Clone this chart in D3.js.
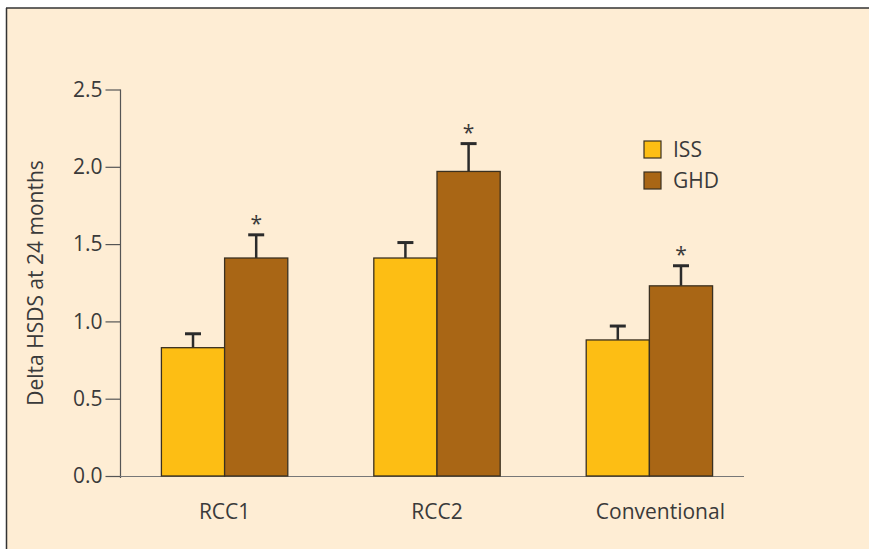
<!DOCTYPE html>
<html>
<head>
<meta charset="utf-8">
<script src="https://cdn.jsdelivr.net/npm/d3@7/dist/d3.min.js"></script>
<style>
  html, body { margin: 0; padding: 0; background: #ffffff; }
  svg { display: block; }
  text { font-family: "Open Sans", "Noto Sans", sans-serif; fill: #3a3a3a; }
</style>
</head>
<body>
<svg id="chart" width="869" height="549"></svg>
<script>
// Delta height SDS after 24 months, by treatment arm and diagnosis
const categories = ["RCC1", "RCC2", "Conventional"];
const seriesNames = ["ISS", "GHD"];
const issMeans = [0.83, 1.41, 0.88];
const issErr = [0.09, 0.10, 0.09];
const ghdMeans = [1.41, 1.97, 1.23];
const ghdErr = [0.15, 0.18, 0.13];
const significant = [true, true, true]; // GHD vs ISS
const yTicks = [0, 0.5, 1.0, 1.5, 2.0, 2.5];
const colors = ["#FDBE14", "#A96615"];

const svg = d3.select("#chart");
const W = 869, H = 549;
const FONT = 21;

// panel background with top and left rules
svg.append("rect").attr("x", 6).attr("y", 8).attr("width", W - 6).attr("height", H - 8)
  .attr("fill", "#FEEDD4");
svg.append("line").attr("x1", 6).attr("x2", W).attr("y1", 8).attr("y2", 8)
  .attr("stroke", "#333").attr("stroke-width", 1.5);
svg.append("line").attr("x1", 6.5).attr("x2", 6.5).attr("y1", 8).attr("y2", H)
  .attr("stroke", "#333").attr("stroke-width", 1.5);

const y = d3.scaleLinear().domain([0, 2.5]).range([476, 89.5]);
const x0 = d3.scaleBand().domain(categories).range([120, 754]).paddingInner(0.405).paddingOuter(0.195);
const x1 = d3.scaleBand().domain(seriesNames).range([0, x0.bandwidth()]);

// y axis
const yAxis = d3.axisLeft(y).tickValues(yTicks).tickFormat(d3.format(".1f")).tickSize(15).tickPadding(3);
const gy = svg.append("g").attr("transform", "translate(120.5,0)").call(yAxis);
gy.select(".domain").remove();
gy.append("line").attr("x1", 0).attr("x2", 0).attr("y1", y(2.5)).attr("y2", y(0) + 2)
  .attr("stroke", "#555").attr("stroke-width", 1.2);
gy.selectAll(".tick line").attr("stroke", "#555").attr("stroke-width", 1.2);
gy.selectAll(".tick text").style("font-size", FONT + "px").attr("fill", "#3a3a3a")
  .style("font-family", "'Open Sans', 'Noto Sans', sans-serif");

// baseline
svg.append("line").attr("x1", 120).attr("x2", 744).attr("y1", y(0) + 0.5).attr("y2", y(0) + 0.5)
  .attr("stroke", "#777").attr("stroke-width", 1.2);

// y title
svg.append("text")
  .attr("transform", `translate(43,283) rotate(-90)`)
  .attr("text-anchor", "middle")
  .style("font-size", FONT + "px")
  .text("Delta HSDS at 24 months");

const rows = categories.map((c, i) => ({
  cat: c,
  vals: [
    { s: "ISS", v: issMeans[i], e: issErr[i], c: colors[0] },
    { s: "GHD", v: ghdMeans[i], e: ghdErr[i], c: colors[1] }
  ],
  sig: significant[i]
}));

const groups = svg.append("g").selectAll("g").data(rows).join("g")
  .attr("transform", d => `translate(${x0(d.cat)},0)`);

// error bars (drawn first so bar outline sits over the stem base)
groups.selectAll("g.err").data(d => d.vals).join("g").attr("class", "err").each(function(d) {
  const g = d3.select(this);
  const cx = x1(d.s) + x1.bandwidth() / 2;
  g.append("line").attr("x1", cx).attr("x2", cx).attr("y1", y(d.v)).attr("y2", y(d.v + d.e))
    .attr("stroke", "#2b2b2b").attr("stroke-width", 2.5);
  g.append("line").attr("x1", cx - 8).attr("x2", cx + 8).attr("y1", y(d.v + d.e)).attr("y2", y(d.v + d.e))
    .attr("stroke", "#2b2b2b").attr("stroke-width", 3);
});

groups.selectAll("rect").data(d => d.vals).join("rect")
  .attr("x", d => x1(d.s))
  .attr("y", d => y(d.v))
  .attr("width", x1.bandwidth())
  .attr("height", d => y(0) - y(d.v))
  .attr("fill", d => d.c)
  .attr("stroke", "#3a3020").attr("stroke-width", 1.3);

// significance markers above GHD bars
groups.filter(d => d.sig).append("text")
  .attr("x", x1("GHD") + x1.bandwidth() / 2)
  .attr("y", d => y(d.vals[1].v + d.vals[1].e) - 4)
  .attr("text-anchor", "middle")
  .style("font-size", "21px")
  .text("*");

// category labels
svg.append("g").selectAll("text").data(categories).join("text")
  .attr("x", d => x0(d) + x0.bandwidth() / 2 + (d === "Conventional" ? 11 : 0))
  .attr("y", 519)
  .attr("text-anchor", "middle")
  .style("font-size", FONT + "px")
  .text(d => d);

// legend
const legend = svg.append("g").attr("transform", "translate(644,141)");
const li = legend.selectAll("g").data(seriesNames).join("g")
  .attr("transform", (d, i) => `translate(0,${i * 31})`);
li.append("rect").attr("width", 17).attr("height", 17)
  .attr("fill", (d, i) => colors[i]).attr("stroke", "#3a3020").attr("stroke-width", 1.2);
li.append("text").attr("x", 29).attr("y", 16).style("font-size", FONT + "px").text(d => d);
</script>
</body>
</html>
